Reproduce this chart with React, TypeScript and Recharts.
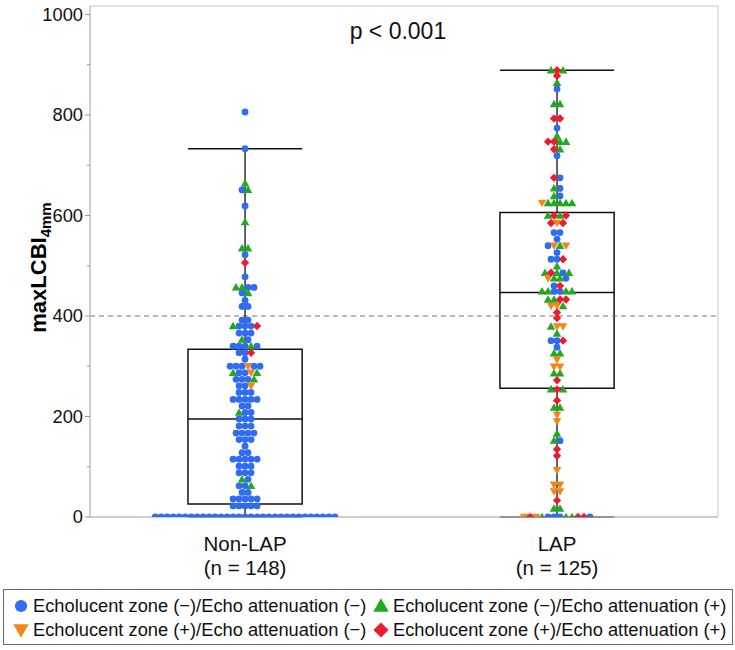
import React from 'react';
import {
  ScatterChart,
  Scatter,
  XAxis,
  YAxis,
  ReferenceArea,
  ReferenceLine,
  ReferenceDot,
  Legend,
} from 'recharts';

// ---------- data ----------
const groupNames = ['Non-LAP', 'LAP'];
const groupCounts = ['(n = 148)', '(n = 125)'];
const groupPositions = [1, 2];

// rows of the swarm: [value, category codes from left to right]
// B: EZ(-)/EA(-)  G: EZ(-)/EA(+)  O: EZ(+)/EA(-)  R: EZ(+)/EA(+)
const nonLapRows: [number, string][] = [
  [0, 'BBBBBBBBBBBBBBBBBBBBBBBBBBBBBBB'],
  [22, 'BBBBB'],
  [36, 'BBBBB'],
  [49, 'BB'],
  [62, 'BBG'],
  [75, 'GB'],
  [88, 'BBB'],
  [101, 'BBB'],
  [115, 'BBBBB'],
  [128, 'BB'],
  [141, 'B'],
  [154, 'BBB'],
  [167, 'BBBB'],
  [181, 'BBB'],
  [195, 'BBB'],
  [208, 'GBB'],
  [221, 'BB'],
  [234, 'BBBBB'],
  [248, 'BBB'],
  [261, 'BBO'],
  [274, 'BBBG'],
  [287, 'GBBOG'],
  [300, 'BBBOBB'],
  [314, 'B'],
  [327, 'BBR'],
  [340, 'BBBGB'],
  [353, 'GB'],
  [366, 'BBB'],
  [380, 'GBBBR'],
  [392, 'BB'],
  [419, 'BB'],
  [431, 'B'],
  [446, 'BG'],
  [457, 'GGBB'],
  [478, 'B'],
  [506, 'R'],
  [522, 'B'],
  [535, 'GG'],
  [587, 'G'],
  [619, 'B'],
  [651, 'BG'],
  [664, 'G'],
  [733, 'B'],
  [806, 'B'],
];

const lapRows: [number, string][] = [
  [0, 'OROGBBBGGRRB'],
  [17, 'GG'],
  [33, 'R'],
  [51, 'OO'],
  [64, 'OO'],
  [93, 'O'],
  [122, 'R'],
  [135, 'R'],
  [152, 'GB'],
  [166, 'G'],
  [190, 'O'],
  [203, 'O'],
  [218, 'GG'],
  [232, 'R'],
  [254, 'GRG'],
  [272, 'R'],
  [286, 'GG'],
  [299, 'OO'],
  [313, 'O'],
  [326, 'GG'],
  [338, 'B'],
  [351, 'BBR'],
  [365, 'G'],
  [379, 'GOO'],
  [396, 'R'],
  [407, 'R'],
  [420, 'OOG'],
  [433, 'GGRR'],
  [449, 'GGBBGG'],
  [460, 'BR'],
  [475, 'OGGB'],
  [486, 'GRGBG'],
  [499, 'G'],
  [513, 'BBR'],
  [526, 'B'],
  [540, 'BOGO'],
  [553, 'B'],
  [566, 'BB'],
  [585, 'ROR'],
  [600, 'GRGR'],
  [625, 'OGGGGG'],
  [639, 'GB'],
  [654, 'GB'],
  [675, 'RB'],
  [719, 'B'],
  [732, 'RG'],
  [747, 'RRGG'],
  [758, 'G'],
  [774, 'B'],
  [793, 'RR'],
  [822, 'GG'],
  [852, 'B'],
  [864, 'G'],
  [878, 'R'],
  [889, 'GRG'],
];

const boxQ1 = [26, 256];
const boxMedian = [195, 447];
const boxQ3 = [334, 606];
const whiskerLow = [0, 0];
const whiskerHigh = [733, 889];

const yTicks = [0, 100, 200, 300, 400, 500, 600, 700, 800, 900, 1000];
const yMax = 1017;
const cutoffValue = 400;
const pValueText = 'p < 0.001';

const categoryCodes = ['B', 'G', 'O', 'R'];
const categoryNames = [
  'Echolucent zone (\u2212)/Echo attenuation (\u2212)',
  'Echolucent zone (\u2212)/Echo attenuation (+)',
  'Echolucent zone (+)/Echo attenuation (\u2212)',
  'Echolucent zone (+)/Echo attenuation (+)',
];
const categoryColors = ['#2f6cf2', '#22a822', '#f2861a', '#ec1c2e'];
const categoryShapes = ['circle', 'up', 'down', 'diamond'];

// ---------- layout constants ----------
const FONT = '"Liberation Sans", Arial, sans-serif';
const X_DOMAIN: [number, number] = [0.503, 2.516];
const DOT_STEP = 0.0192; // horizontal step between neighbouring points (x units)
const BOX_HALF = 0.183;

type Pt = { x: number; y: number };

function buildPoints(rows: [number, string][], center: number) {
  const out: Record<string, Pt[]> = { B: [], G: [], O: [], R: [] };
  rows.forEach(([v, codes]) => {
    const n = codes.length;
    codes.split('').forEach((c, i) => {
      out[c].push({ x: center + (i - (n - 1) / 2) * DOT_STEP, y: v });
    });
  });
  return out;
}

const nonLapPts = buildPoints(nonLapRows, groupPositions[0]);
const lapPts = buildPoints(lapRows, groupPositions[1]);
const seriesData = categoryCodes.map((c) => [...nonLapPts[c], ...lapPts[c]]);

function Marker({ cx, cy, shape, color, s = 1 }: any) {
  if (cx == null || cy == null) return null;
  if (shape === 'circle') return <circle cx={cx} cy={cy} r={3.4 * s} fill={color} />;
  if (shape === 'up') {
    const h = 4.3 * s;
    return (
      <polygon
        points={`${cx},${cy - h} ${cx - h},${cy + h * 0.75} ${cx + h},${cy + h * 0.75}`}
        fill={color}
      />
    );
  }
  if (shape === 'down') {
    const h = 4.3 * s;
    return (
      <polygon
        points={`${cx},${cy + h} ${cx - h},${cy - h * 0.75} ${cx + h},${cy - h * 0.75}`}
        fill={color}
      />
    );
  }
  const d = 4.2 * s;
  return (
    <polygon
      points={`${cx},${cy - d} ${cx + d},${cy} ${cx},${cy + d} ${cx - d},${cy}`}
      fill={color}
    />
  );
}

const YTick = (props: any) => {
  const { x, y, payload } = props;
  const major = payload.value % 200 === 0;
  return (
    <g>
      <line x1={x - (major ? 5 : 3)} x2={x} y1={y} y2={y} stroke="#999" strokeWidth={1} />
      {major && (
        <text
          x={x - 7}
          y={y}
          dy="0.35em"
          textAnchor="end"
          fontSize={18.3}
          fontFamily={FONT}
          fill="#111"
        >
          {payload.value}
        </text>
      )}
    </g>
  );
};

const XTick = (props: any) => {
  const { x, y, payload } = props;
  const i = groupPositions.indexOf(payload.value);
  if (i < 0) return null;
  return (
    <text x={x} y={y} textAnchor="middle" fontSize={20.5} fontFamily={FONT} fill="#111">
      <tspan x={x} dy={34}>
        {groupNames[i]}
      </tspan>
      <tspan x={x} dy={24}>
        {groupCounts[i]}
      </tspan>
    </text>
  );
};

const YLabel = (props: any) => {
  const vb = props.viewBox || {};
  const cx = (vb.x ?? 0) + 38;
  const cy = (vb.y ?? 0) + (vb.height ?? 0) / 2 + 6;
  return (
    <text
      x={cx}
      y={cy}
      transform={`rotate(-90 ${cx} ${cy})`}
      textAnchor="middle"
      fontFamily={FONT}
      fontWeight="bold"
      fontSize={22}
      fill="#000"
      dy="0.35em"
    >
      <tspan>maxLCBI</tspan>
      <tspan fontSize={15} dy={5}>
        4mm
      </tspan>
    </text>
  );
};

const LegendIcon = ({ shape, color }: any) => (
  <svg width={16} height={16} style={{ display: 'block', flex: 'none' }}>
    <Marker cx={8} cy={8} shape={shape} color={color} s={1.8} />
  </svg>
);

const LegendBox = () => {
  const order = [0, 1, 2, 3];
  return (
    <div
      style={{
        boxSizing: 'border-box',
        width: 730,
        height: 56,
        border: '1px solid #666',
        fontFamily: FONT,
        fontSize: 18.3,
        color: '#111',
        display: 'grid',
        gridTemplateColumns: '360px 360px',
        gridTemplateRows: '24px 24px',
        paddingTop: 4,
        paddingLeft: 9,
        textAlign: 'left',
      }}
    >
      {order.map((k) => (
        <div key={k} style={{ display: 'flex', alignItems: 'center', gap: 4, whiteSpace: 'nowrap' }}>
          <LegendIcon shape={categoryShapes[k]} color={categoryColors[k]} />
          <span>{categoryNames[k]}</span>
        </div>
      ))}
    </div>
  );
};

export default function App() {
  return (
    <div style={{ position: 'absolute', left: 0, top: 0 }}>
      <ScatterChart width={735} height={650} margin={{ top: 6, right: 17, bottom: 73, left: 0 }}>
        <XAxis
          type="number"
          dataKey="x"
          domain={X_DOMAIN}
          ticks={groupPositions}
          allowDataOverflow
          height={60}
          tickLine={false}
          tickSize={0}
          tickMargin={0}
          axisLine={{ stroke: '#bdbdbd' }}
          tick={<XTick />}
          interval={0}
        />
        <YAxis
          type="number"
          dataKey="y"
          domain={[0, yMax]}
          allowDataOverflow
          ticks={yTicks}
          width={90}
          tickLine={false}
          tickSize={0}
          tickMargin={0}
          axisLine={{ stroke: '#bdbdbd' }}
          tick={<YTick />}
          interval={0}
          label={{ content: (p: any) => <YLabel {...p} /> }}
        />
        <ReferenceArea
          x1={X_DOMAIN[0]}
          x2={X_DOMAIN[1]}
          y1={0}
          y2={yMax}
          fill="none"
          stroke="#c4c4c4"
          strokeWidth={1}
        />
        <ReferenceLine
          y={cutoffValue}
          stroke="#777"
          strokeDasharray="5 4"
          strokeWidth={1.2}
        />
        {categoryCodes.map((c, k) => (
          <Scatter
            key={c}
            name={categoryNames[k]}
            data={seriesData[k]}
            isAnimationActive={false}
            shape={(p: any) => (
              <Marker cx={p.cx} cy={p.cy} shape={categoryShapes[k]} color={categoryColors[k]} />
            )}
          />
        ))}
        {groupPositions.map((g, i) => (
          <ReferenceArea
            key={`box${i}`}
            x1={g - BOX_HALF}
            x2={g + BOX_HALF}
            y1={boxQ1[i]}
            y2={boxQ3[i]}
            fill="none"
            fillOpacity={0}
            stroke="#111"
            strokeWidth={1.5}
          />
        ))}
        {groupPositions.map((g, i) => (
          <ReferenceLine
            key={`med${i}`}
            segment={[
              { x: g - BOX_HALF, y: boxMedian[i] },
              { x: g + BOX_HALF, y: boxMedian[i] },
            ]}
            stroke="#111"
            strokeWidth={1.5}
          />
        ))}
        {groupPositions.map((g, i) => (
          <ReferenceLine
            key={`wu${i}`}
            segment={[
              { x: g, y: boxQ3[i] },
              { x: g, y: whiskerHigh[i] },
            ]}
            stroke="#111"
            strokeWidth={1.3}
          />
        ))}
        {groupPositions.map((g, i) => (
          <ReferenceLine
            key={`wl${i}`}
            segment={[
              { x: g, y: whiskerLow[i] },
              { x: g, y: boxQ1[i] },
            ]}
            stroke="#111"
            strokeWidth={1.3}
          />
        ))}
        {groupPositions.map((g, i) => (
          <ReferenceLine
            key={`cu${i}`}
            segment={[
              { x: g - BOX_HALF, y: whiskerHigh[i] },
              { x: g + BOX_HALF, y: whiskerHigh[i] },
            ]}
            stroke="#111"
            strokeWidth={1.5}
          />
        ))}
        {groupPositions.map((g, i) => (
          <ReferenceLine
            key={`cl${i}`}
            segment={[
              { x: g - BOX_HALF, y: whiskerLow[i] },
              { x: g + BOX_HALF, y: whiskerLow[i] },
            ]}
            stroke="#444"
            strokeWidth={1.5}
          />
        ))}
        <ReferenceDot
          x={1.49}
          y={967}
          r={0}
          fill="none"
          stroke="none"
          label={{ value: pValueText, position: 'center', fontSize: 23, fontFamily: FONT, fill: '#111' }}
        />
        <Legend
          layout="horizontal"
          verticalAlign="middle"
          align="center"
          wrapperStyle={{ position: 'absolute', left: 3, top: 589, width: 730, height: 56 }}
          content={() => <LegendBox />}
        />
      </ScatterChart>
    </div>
  );
}
